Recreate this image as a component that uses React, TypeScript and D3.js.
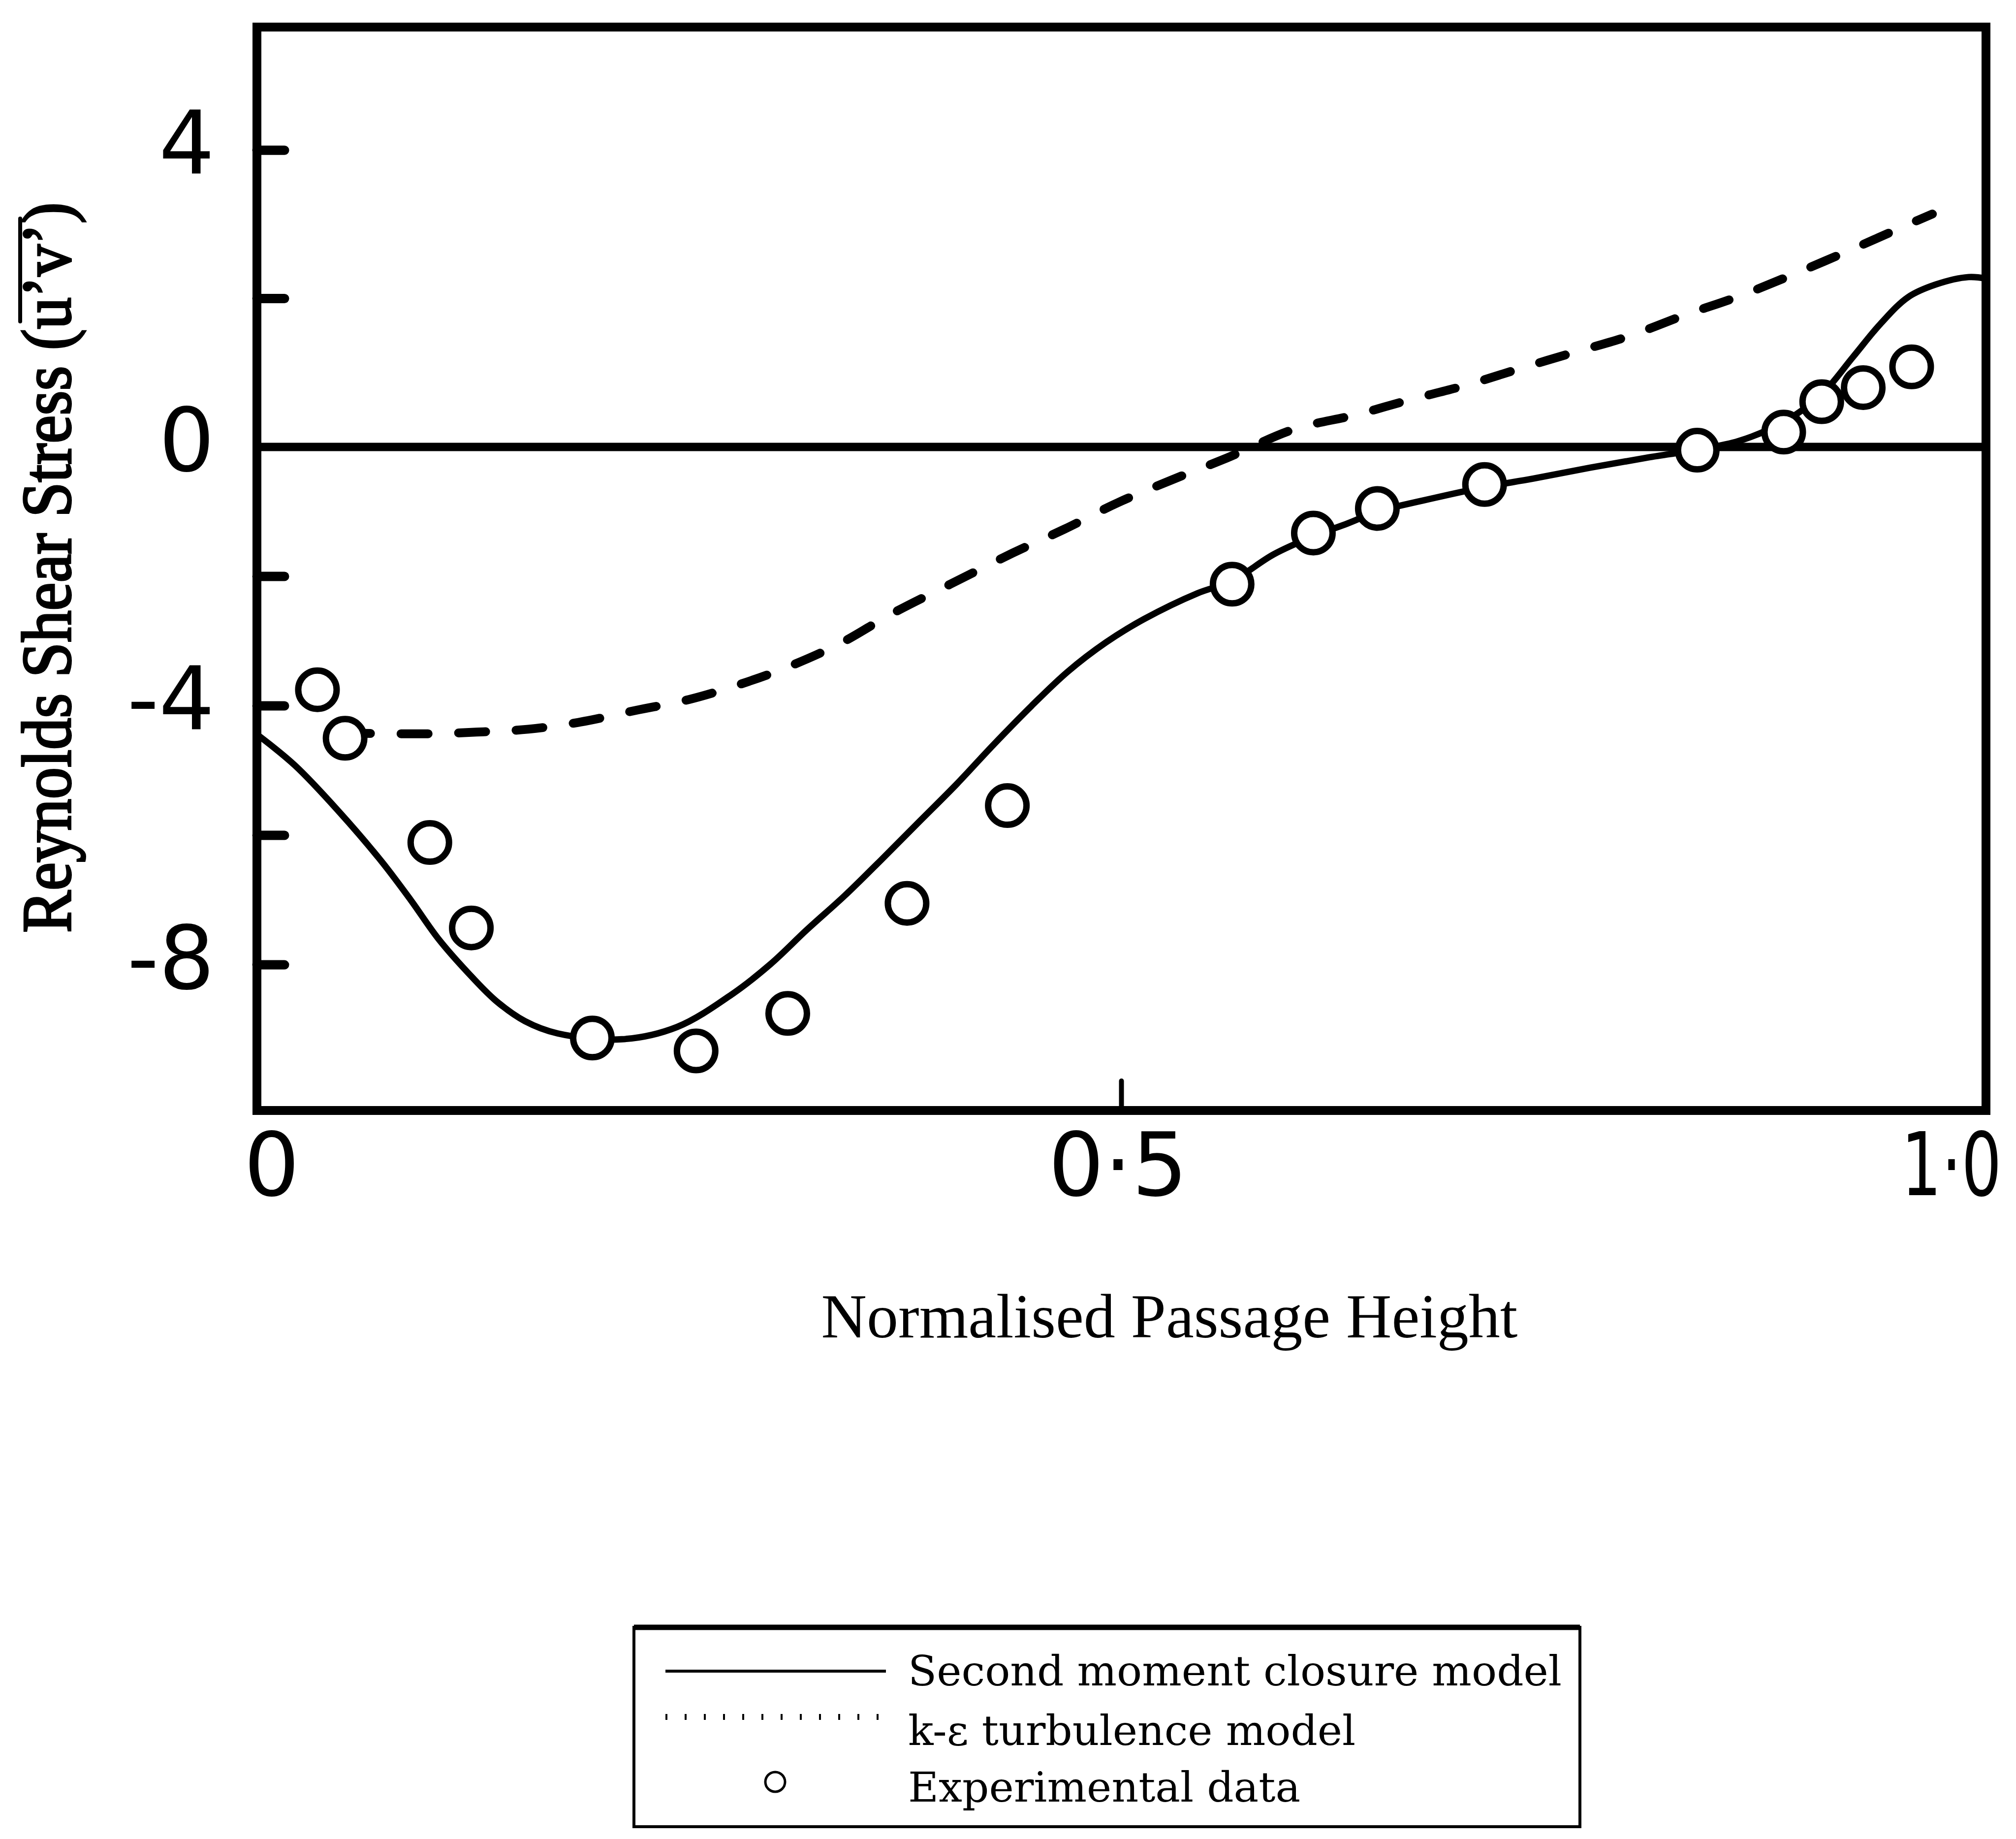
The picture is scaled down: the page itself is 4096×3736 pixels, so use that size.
import React from "react";
import * as d3 from "d3";

// Axis extents and ticks
const xDomain = [0, 1];
const yExtent = [-10.25, 0, 5.66];
const xTickValues = [0, 0.5, 1.0];
const xTickLabels = ["0", "0·5", "1·0"];
const xTickMarks = [0.5];
const yTickValues = [4, 2, -2, -4, -6, -8];
const yLabelValues = [4, 0, -4, -8];
const yLabelTexts = ["4", "0", "-4", "-8"];

// Second moment closure model (solid)
const secondMomentX = [0, 0.022, 0.047, 0.072, 0.089, 0.105, 0.122, 0.138, 0.155, 0.174, 0.211, 0.243, 0.275, 0.297, 0.318, 0.34, 0.361, 0.383, 0.405, 0.426, 0.448, 0.469, 0.491, 0.513, 0.544, 0.564, 0.588, 0.611, 0.631, 0.648, 0.674, 0.71, 0.738, 0.771, 0.803, 0.833, 0.857, 0.884, 0.905, 0.923, 0.939, 0.955, 0.971, 0.99, 1.0];
const secondMomentY = [-4.44, -4.92, -5.62, -6.4, -7.0, -7.6, -8.12, -8.55, -8.87, -9.06, -9.15, -8.96, -8.45, -7.99, -7.46, -6.93, -6.38, -5.79, -5.2, -4.6, -4.0, -3.47, -3.02, -2.66, -2.26, -2.07, -1.66, -1.38, -1.18, -1.0, -0.83, -0.62, -0.49, -0.32, -0.17, -0.04, 0.08, 0.35, 0.71, 1.21, 1.66, 2.02, 2.19, 2.29, 2.27];

// k-epsilon turbulence model (dashed)
const kEpsilonX = [0.05, 0.1, 0.131, 0.157, 0.187, 0.219, 0.25, 0.279, 0.306, 0.337, 0.367, 0.401, 0.437, 0.467, 0.498, 0.529, 0.561, 0.6, 0.635, 0.666, 0.699, 0.731, 0.761, 0.793, 0.826, 0.857, 0.89, 0.925, 0.957, 0.969];
const kEpsilonY = [-4.42, -4.43, -4.4, -4.36, -4.25, -4.07, -3.9, -3.67, -3.41, -3.04, -2.58, -2.12, -1.64, -1.27, -0.86, -0.51, -0.17, 0.24, 0.43, 0.63, 0.83, 1.06, 1.27, 1.49, 1.78, 2.03, 2.34, 2.69, 3.02, 3.14];

// Experimental data (open circles)
const experimentX = [0.035, 0.051, 0.1, 0.124, 0.194, 0.254, 0.307, 0.376, 0.434, 0.564, 0.611, 0.648, 0.71, 0.833, 0.883, 0.905, 0.929, 0.957];
const experimentY = [-3.75, -4.5, -6.11, -7.43, -9.13, -9.33, -8.75, -7.05, -5.54, -2.12, -1.33, -0.95, -0.58, -0.05, 0.2, 0.61, 0.8, 1.08];

const legendLabels = ["Second moment closure model", "k-ε turbulence model", "Experimental data"];

const W = 4096;
const H = 3736;
const PLOT = { left: 522, right: 4035, top: 55, bottom: 2256, zero: 908 };
const xLabelOffsets = [30, -7, -70];
const xLabelSqueeze = [1, 1, 0.72];
const LEGEND = { x: 1288, y: 3306, w: 1922, h: 405, textX: 1845, rows: [3424, 3545, 3660] };

type Pt = [number, number];

export default function App() {
  const x = d3.scaleLinear().domain(xDomain).range([PLOT.left, PLOT.right]);
  const y = d3
    .scaleLinear()
    .domain(yExtent)
    .range([PLOT.bottom, PLOT.zero, PLOT.top]);

  const line = d3
    .line<Pt>()
    .x((d) => x(d[0]))
    .y((d) => y(d[1]))
    .curve(d3.curveCatmullRom.alpha(0.5));

  const solidPts: Pt[] = secondMomentX.map((v, i) => [v, secondMomentY[i]]);
  const dashPts: Pt[] = kEpsilonX.map((v, i) => [v, kEpsilonY[i]]);
  const expPts: Pt[] = experimentX.map((v, i) => [v, experimentY[i]]);

  const x0 = x(xDomain[0]);
  const x1 = x(xDomain[1]);
  const yTop = y(yExtent[2]);
  const yBot = y(yExtent[0]);

  return (
    <svg
      width={W}
      height={H}
      viewBox={`0 0 ${W} ${H}`}
      style={{ position: "absolute", left: 0, top: 0, background: "#fff" }}
    >
      <rect x={0} y={0} width={W} height={H} fill="#fff" />

      {/* frame */}
      <rect
        x={x0}
        y={yTop}
        width={x1 - x0}
        height={yBot - yTop}
        fill="none"
        stroke="#000"
        strokeWidth={18}
      />
      {/* zero line */}
      <line x1={x0} x2={x1} y1={y(0)} y2={y(0)} stroke="#000" strokeWidth={17} />

      {/* y ticks */}
      {yTickValues.map((v) => (
        <line
          key={`yt${v}`}
          x1={x0}
          x2={x0 + 56}
          y1={y(v)}
          y2={y(v)}
          stroke="#000"
          strokeWidth={19}
          strokeLinecap="round"
        />
      ))}
      {/* x tick */}
      {xTickMarks.map((v) => (
        <line
          key={`xt${v}`}
          x1={x(v)}
          x2={x(v)}
          y1={yBot}
          y2={yBot - 60}
          stroke="#000"
          strokeWidth={10}
          strokeLinecap="round"
        />
      ))}

      {/* y labels */}
      {yLabelValues.map((v, i) => (
        <text
          key={`yl${v}`}
          x={436}
          y={y(v) - 14}
          textAnchor="end"
          dominantBaseline="central"
          fontFamily="DejaVu Sans"
          fontSize={178}
          fill="#000"
        >
          {yLabelTexts[i]}
        </text>
      ))}
      {/* x labels */}
      {xTickValues.map((v, i) => (
        <text
          key={`xl${v}`}
          transform={`translate(${x(v) + xLabelOffsets[i]},2428) scale(${xLabelSqueeze[i]},1)`}
          textAnchor="middle"
          fontFamily="DejaVu Sans"
          fontSize={178}
          fill="#000"
        >
          {xTickLabels[i]}
        </text>
      ))}

      {/* k-epsilon model */}
      <path
        d={line(dashPts) || ""}
        fill="none"
        stroke="#000"
        strokeWidth={18}
        strokeDasharray="55 62"
        strokeLinecap="round"
      />
      {/* second moment closure model */}
      <path d={line(solidPts) || ""} fill="none" stroke="#000" strokeWidth={13} />

      {/* experimental data */}
      {expPts.map((d, i) => (
        <circle
          key={`c${i}`}
          cx={x(d[0])}
          cy={y(d[1])}
          r={39}
          fill="#fff"
          stroke="#000"
          strokeWidth={13}
        />
      ))}

      {/* axis titles */}
      <text
        transform="translate(143,1153) rotate(-90)"
        textAnchor="middle"
        fontFamily="Liberation Serif"
        fontSize={142}
        fill="#000"
        stroke="#000"
        strokeWidth={4}
        textLength={1484}
        lengthAdjust="spacingAndGlyphs"
      >
        Reynolds Shear Stress (u’v’)
      </text>
      {/* bar over u'v' */}
      <line x1={41} x2={41} y1={444} y2={653} stroke="#000" strokeWidth={8} strokeLinecap="round" />
      <text
        x={2376}
        y={2717}
        textAnchor="middle"
        fontFamily="Liberation Serif"
        fontSize={128}
        fill="#000"
      >
        Normalised Passage Height
      </text>

      {/* legend */}
      <rect
        x={LEGEND.x}
        y={LEGEND.y}
        width={LEGEND.w}
        height={LEGEND.h}
        fill="none"
        stroke="#000"
        strokeWidth={6}
      />
      <line
        x1={LEGEND.x}
        x2={LEGEND.x + LEGEND.w}
        y1={LEGEND.y}
        y2={LEGEND.y}
        stroke="#000"
        strokeWidth={11}
      />
      <line x1={1352} x2={1800} y1={3395} y2={3395} stroke="#000" strokeWidth={6} />
      <line
        x1={1352}
        x2={1785}
        y1={3488}
        y2={3488}
        stroke="#000"
        strokeWidth={12}
        strokeDasharray="4 35"
      />
      <circle cx={1575} cy={3620} r={20} fill="#fff" stroke="#000" strokeWidth={5} />
      {legendLabels.map((t, i) => (
        <text
          key={t}
          x={LEGEND.textX}
          y={LEGEND.rows[i]}
          fontFamily="DejaVu Serif"
          fontSize={85}
          fill="#000"
        >
          {t}
        </text>
      ))}
    </svg>
  );
}
